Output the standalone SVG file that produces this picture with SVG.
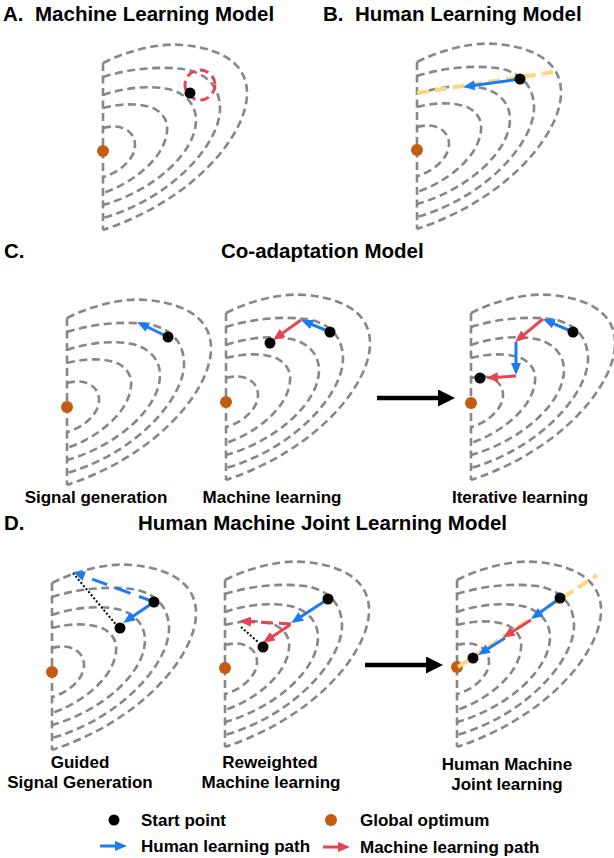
<svg xmlns="http://www.w3.org/2000/svg" xmlns:xlink="http://www.w3.org/1999/xlink" width="614" height="858" viewBox="0 0 614 858">
<style>
  .ct { fill: none; stroke: #878787; stroke-width: 2.6; stroke-dasharray: 8 4.5; }
  .txt { font-family: "Liberation Sans", Arial, sans-serif; font-weight: bold; fill: #000; }
  .title { font-size: 20.5px; }
  .lbl { font-size: 17px; text-anchor: middle; }
  .leg { font-size: 17px; }
  .opt { fill: #c55a11; }
  .start { fill: #000; }
  .hum { fill: none; stroke: #1b7cf2; stroke-width: 3; marker-end: url(#ah-blue); }
  .mach { fill: none; stroke: #e64353; stroke-width: 3; marker-end: url(#ah-red); }
  .yel { fill: none; stroke: #fdd680; stroke-width: 4; stroke-dasharray: 12 6; }
  .dot { fill: none; stroke: #000; stroke-width: 2; stroke-dasharray: 2 2; }
  .big { fill: none; stroke: #000; stroke-width: 4.5; marker-end: url(#ah-big); }
</style>
<defs>
  <marker id="ah-blue" viewBox="0 0 12 10" refX="5" refY="5" markerWidth="12" markerHeight="10" orient="auto" markerUnits="userSpaceOnUse">
    <path d="M0,0 L12,5 L0,10 z" fill="#1b7cf2"/>
  </marker>
  <marker id="ah-red" viewBox="0 0 12 10" refX="5" refY="5" markerWidth="12" markerHeight="10" orient="auto" markerUnits="userSpaceOnUse">
    <path d="M0,0 L12,5 L0,10 z" fill="#e64353"/>
  </marker>
  <marker id="ah-big" viewBox="0 0 17 17" refX="4" refY="8.5" markerWidth="17" markerHeight="17" orient="auto" markerUnits="userSpaceOnUse">
    <path d="M0,0 L17,8.5 L0,17 z" fill="#000"/>
  </marker>
  <g id="contours">
    <path class="ct" d="M0,0 V167"/>
    <path class="ct" d="M0,0 C30,-15 60,-20 80,-18 C125,-14 145,5 144,32 C143,70 95,135 0,167"/>
    <path class="ct" d="M0,14 C25,6 55,3 80,6 C105,10 117,25 117,46 C117,80 70,135 0,155"/>
    <path class="ct" d="M0,32 C20,25 45,22 65,26 C83,30 93,42 93,57 C93,90 50,128 0,142"/>
    <path class="ct" d="M0,45 C20,40 40,40 52,46 C62,52 65,60 64,68 C62,95 30,120 0,130"/>
    <path class="ct" d="M0,65 C18,60 32,68 32,82 C32,97 15,110 0,114"/>
  </g>
</defs>

<!-- Titles -->
<g id="titles" class="txt title">
  <text x="3" y="21">A.</text>
  <text x="35" y="21">Machine Learning Model</text>
  <text x="323" y="21">B.</text>
  <text x="355" y="21">Human Learning Model</text>
  <text x="4" y="258">C.</text>
  <text x="221" y="258">Co-adaptation Model</text>
  <text x="4" y="530">D.</text>
  <text x="138" y="530">Human Machine Joint Learning Model</text>
</g>

<!-- Panel A -->
<g id="panelA">
  <use xlink:href="#contours" href="#contours" x="103" y="63"/>
  <circle class="opt" cx="103" cy="151" r="6"/>
  <circle cx="200" cy="85" r="15" fill="none" stroke="#e64353" stroke-width="3" stroke-dasharray="9 5"/>
  <circle class="start" cx="190" cy="93" r="5.5"/>
</g>

<!-- Panel B -->
<g id="panelB">
  <use xlink:href="#contours" href="#contours" x="417" y="62"/>
  <circle class="opt" cx="417" cy="150" r="6"/>
  <path class="yel" d="M417,93 L553,72"/>
  <path class="hum" d="M520,79 L470,86"/>
  <circle class="start" cx="520" cy="79" r="5.5"/>
</g>

<!-- Panel C1 -->
<g id="panelC1">
  <use xlink:href="#contours" href="#contours" x="67" y="318"/>
  <circle class="opt" cx="67" cy="407" r="6"/>
  <path class="hum" d="M168,337 L143.3,325"/>
  <circle class="start" cx="168" cy="337" r="5.5"/>
  <text class="txt lbl" x="96" y="503">Signal generation</text>
</g>

<!-- Panel C2 -->
<g id="panelC2">
  <use xlink:href="#contours" href="#contours" x="226" y="313"/>
  <circle class="opt" cx="226" cy="402" r="6"/>
  <path class="hum" d="M330,332 L307.5,322.7"/>
  <path class="mach" d="M301,320 L278.7,335.9"/>
  <circle class="start" cx="330" cy="332" r="5.5"/>
  <circle class="start" cx="270" cy="343" r="5.5"/>
  <text class="txt lbl" x="272" y="503">Machine learning</text>
</g>

<!-- Panel C3 -->
<g id="panelC3">
  <use xlink:href="#contours" href="#contours" x="471" y="313"/>
  <circle class="opt" cx="471" cy="403" r="6"/>
  <path class="hum" d="M573,332 L549.4,321.8"/>
  <path class="mach" d="M543,319 L520.4,337.6"/>
  <path class="hum" d="M516,342 L516,368"/>
  <path class="mach" d="M516,376 L493,377.5"/>
  <circle class="start" cx="573" cy="332" r="5.5"/>
  <circle class="start" cx="480" cy="378" r="5.5"/>
  <text class="txt lbl" x="520" y="503">Iterative learning</text>
</g>

<!-- Panel D1 -->
<g id="panelD1">
  <use xlink:href="#contours" href="#contours" x="52" y="583"/>
  <circle class="opt" cx="52" cy="672" r="6"/>
  <path class="dot" d="M73,573 L118,627"/>
  <path class="hum" d="M154,602 L79.6,574.4" stroke-dasharray="16 9"/>
  <path class="hum" d="M154,602 L129,619"/>
  <circle class="start" cx="154" cy="602" r="5.5"/>
  <circle class="start" cx="120" cy="628" r="5.5"/>
  <text class="txt lbl" x="80" y="768">Guided</text>
  <text class="txt lbl" x="80" y="788">Signal Generation</text>
</g>

<!-- Panel D2 -->
<g id="panelD2">
  <use xlink:href="#contours" href="#contours" x="225" y="580"/>
  <circle class="opt" cx="225" cy="668" r="6"/>
  <path class="dot" d="M241,627 L258,642"/>
  <path class="hum" d="M328,599 L297,619.2"/>
  <path class="mach" d="M291,624 L246,621.4" stroke-dasharray="12 6"/>
  <path class="mach" d="M290,625 L268.7,638.9"/>
  <circle class="start" cx="328" cy="599" r="5.5"/>
  <circle class="start" cx="263" cy="647" r="5.5"/>
  <text class="txt lbl" x="270" y="768">Reweighted</text>
  <text class="txt lbl" x="271" y="788">Machine learning</text>
</g>

<!-- Panel D3 -->
<g id="panelD3">
  <use xlink:href="#contours" href="#contours" x="457" y="580"/>
  <circle class="opt" cx="457" cy="667" r="6"/>
  <path class="yel" d="M458,667 L597,575"/>
  <path class="hum" d="M560,598 L536.7,614.9"/>
  <path class="mach" d="M531,620 L508.7,634"/>
  <path class="hum" d="M505,638 L484,651.3"/>
  <circle class="start" cx="560" cy="598" r="5.5"/>
  <circle class="start" cx="473" cy="658" r="5.5"/>
  <text class="txt lbl" x="507" y="770">Human Machine</text>
  <text class="txt lbl" x="507" y="790">Joint learning</text>
</g>

<!-- Connectors between stages -->
<g id="connectors">
  <path class="big" d="M377,398 L442,398"/>
  <path class="big" d="M365,665 L430,665"/>
</g>

<!-- Legend -->
<g id="legend">
  <circle class="start" cx="114" cy="820" r="5.5"/>
  <text class="txt leg" x="141" y="826">Start point</text>
  <circle class="opt" cx="331" cy="820" r="6"/>
  <text class="txt leg" x="360" y="826">Global optimum</text>
  <path class="hum" d="M100,846 L120,846"/>
  <text class="txt leg" x="141" y="852">Human learning path</text>
  <path class="mach" d="M323,847 L343,847"/>
  <text class="txt leg" x="360" y="853">Machine learning path</text>
</g>
</svg>
